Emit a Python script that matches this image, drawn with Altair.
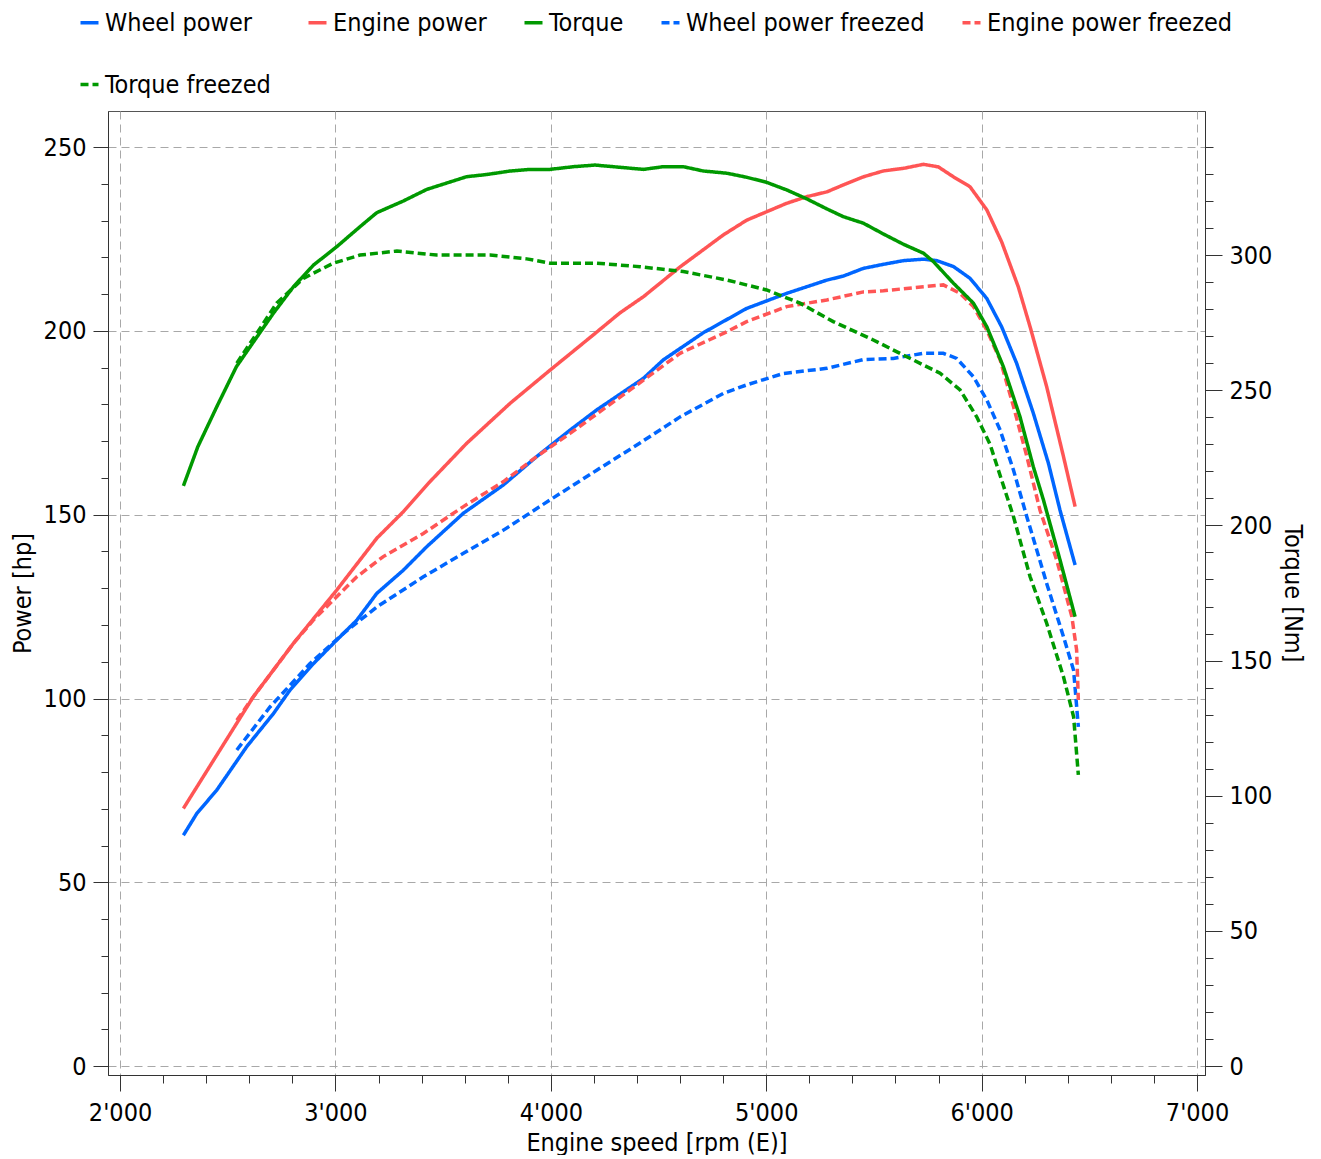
import altair as alt
import pandas as pd

FONT = "DejaVu Sans Condensed, DejaVu Sans, sans-serif"
FS = 25

SERIES = ["Wheel power", "Engine power", "Torque",
          "Wheel power freezed", "Engine power freezed", "Torque freezed"]
COLORS = ["#0066ff", "#ff5555", "#009900", "#0066ff", "#ff5555", "#009900"]
DASHES = [[1, 0], [1, 0], [1, 0], [8, 4], [8, 4], [8, 4]]

# Wheel power [hp]
wp_rpm = [2294, 2356, 2449, 2588, 2712, 2789, 2898, 3006, 3099, 3192, 3315, 3424, 3594,
          3780, 3934, 4089, 4213, 4430, 4522, 4708, 4909, 5095, 5281, 5358, 5451, 5544,
          5637, 5730, 5792, 5869, 5946, 6024, 6093, 6163, 6240, 6310, 6364, 6434]
wp_hp = [62.8, 68.7, 75.1, 86.9, 95.9, 102.3, 109.5, 115.9, 121.3, 128.6, 134.9, 141.3, 150.4,
         158.1, 165.8, 173.0, 178.5, 187.1, 192.1, 199.5, 206.1, 210.2, 213.8, 214.9, 217.0, 218.1,
         219.1, 219.5, 219.1, 217.5, 214.3, 208.8, 201.1, 191.1, 177.6, 164.0, 151.2, 136.3]

# Engine power [hp]
ep_rpm = [2294, 2449, 2619, 2805, 3006, 3192, 3315, 3439, 3609, 3811, 3996, 4197, 4321, 4430,
          4600, 4801, 4909, 5002, 5095, 5188, 5281, 5358, 5451, 5544, 5637, 5730, 5799, 5869,
          5946, 6024, 6093, 6170, 6225, 6302, 6380, 6434]
ep_hp = [70.1, 84.6, 100.5, 115.0, 129.5, 143.6, 150.8, 159.0, 169.4, 180.3, 189.3, 198.9, 204.9, 209.3,
         217.4, 226.1, 230.1, 232.4, 234.7, 236.5, 237.8, 239.7, 241.9, 243.5, 244.2, 245.3, 244.6, 241.9,
         239.2, 232.9, 224.2, 212.0, 201.1, 184.8, 165.8, 152.2]

# Torque [Nm]
tq_rpm = [2294, 2361, 2449, 2540, 2604, 2712, 2805, 2898, 3006, 3114, 3192, 3315, 3424, 3609,
          3702, 3811, 3903, 3996, 4105, 4205, 4430, 4522, 4615, 4708, 4816, 4909, 5002, 5095,
          5188, 5281, 5358, 5451, 5544, 5637, 5730, 5776, 5869, 5962, 6024, 6101, 6178, 6240,
          6287, 6364, 6434]
tq_nm = [214.6, 229.1, 243.9, 258.7, 266.1, 278.5, 288.3, 296.3, 303.1, 310.5, 315.7, 320.0, 324.3, 329.0,
         329.8, 331.1, 331.7, 331.7, 332.7, 333.3, 331.7, 332.7, 332.7, 331.1, 330.3, 328.8, 326.9, 324.1,
         320.8, 317.1, 314.2, 311.8, 307.8, 304.0, 300.7, 297.6, 289.6, 282.2, 273.5, 258.7, 240.2, 221.7,
         209.4, 187.2, 166.2]

# Wheel power freezed [hp]
wpf_rpm = [2542, 2696, 2882, 3037, 3192, 3408, 3594, 3780, 3996, 4213, 4414, 4600, 4801, 4909,
           5079, 5281, 5451, 5590, 5730, 5822, 5884, 5962, 6024, 6086, 6148, 6210, 6302, 6380,
           6427, 6449]
wpf_hp = [86.0, 97.7, 109.5, 117.7, 124.9, 133.1, 139.5, 145.8, 154.0, 162.1, 169.5, 176.6, 183.0, 185.3,
          188.4, 189.8, 192.2, 192.5, 193.9, 193.9, 192.5, 187.5, 181.2, 173.0, 162.1, 149.4, 131.3, 116.8,
          107.7, 92.3]

# Engine power freezed [hp]
epf_rpm = [2542, 2619, 2700, 2805, 2900, 2975, 3099, 3222, 3408, 3594, 3780, 3934, 4089, 4430,
           4600, 4801, 4909, 5095, 5281, 5451, 5544, 5730, 5822, 5900, 5962, 6024, 6086, 6148,
           6210, 6271, 6349, 6419, 6441, 6449]
epf_hp = [94.1, 100.5, 106.8, 115.0, 121.5, 125.9, 133.1, 138.6, 144.9, 152.2, 159.0, 165.8, 172.1, 186.6,
          193.9, 199.3, 202.5, 206.6, 208.4, 210.6, 210.9, 212.0, 212.5, 210.2, 206.6, 200.2, 192.1, 179.4,
          165.8, 151.2, 137.6, 122.2, 113.2, 99.6]

# Torque freezed [Nm]
tqf_rpm = [2542, 2635, 2727, 2851, 2990, 3114, 3285, 3470, 3718, 3888, 3996, 4213, 4414, 4615,
           4816, 5002, 5157, 5311, 5497, 5652, 5807, 5900, 5977, 6039, 6148, 6225, 6302, 6380,
           6427, 6449]
tqf_nm = [260.0, 271.1, 282.2, 291.4, 297.0, 300.0, 301.5, 300.0, 300.0, 298.6, 297.0, 297.0, 295.7, 293.9,
          290.8, 287.1, 282.2, 275.4, 268.6, 262.4, 256.3, 250.1, 240.2, 230.0, 203.2, 181.0, 163.8, 144.0,
          129.2, 107.7]


def frame(name, xs, ys):
    return pd.DataFrame({"rpm": xs, "val": ys, "series": name})


power_df = pd.concat([
    frame("Wheel power", wp_rpm, wp_hp),
    frame("Engine power", ep_rpm, ep_hp),
    frame("Wheel power freezed", wpf_rpm, wpf_hp),
    frame("Engine power freezed", epf_rpm, epf_hp),
], ignore_index=True)

torque_df = pd.concat([
    frame("Torque", tq_rpm, tq_nm),
    frame("Torque freezed", tqf_rpm, tqf_nm),
], ignore_index=True)

X_TICKS = list(range(2000, 7001, 200))
P_TICKS = list(range(0, 251, 10))
T_TICKS = list(range(0, 341, 10))

APOS = "replace(format(datum.value, ','), ',', \"'\")"

x_axis = alt.Axis(
    values=X_TICKS,
    labelExpr=f"datum.value % 1000 === 0 ? {APOS} : ''",
    tickSize={"condition": {"test": "datum.value % 1000 === 0", "value": 16}, "value": 8},
    gridOpacity={"condition": {"test": "datum.value % 1000 === 0", "value": 1}, "value": 0},
    grid=True, gridColor="#a8a8a8", gridDash=[8, 5], gridWidth=1,
    domainColor="#333", tickColor="#333", labelColor="#000",
    labelFont=FONT, labelFontSize=FS, labelPadding=9, labelFlush=False,
    title="Engine speed [rpm (E)]", titleFont=FONT, titleFontSize=FS,
    titleFontWeight="normal", titleColor="#000", titlePadding=5,
)

p_axis = alt.Axis(
    values=P_TICKS,
    labelExpr="datum.value % 50 === 0 ? datum.value : ''",
    tickSize={"condition": {"test": "datum.value % 50 === 0", "value": 15}, "value": 7},
    gridOpacity={"condition": {"test": "datum.value % 50 === 0", "value": 1}, "value": 0},
    grid=True, gridColor="#a8a8a8", gridDash=[8, 5], gridWidth=1,
    domainColor="#333", tickColor="#333", labelColor="#000",
    labelFont=FONT, labelFontSize=FS, labelPadding=7, labelFlush=False,
    title="Power [hp]", titleFont=FONT, titleFontSize=FS,
    titleFontWeight="normal", titleColor="#000", titlePadding=8,
)

t_axis = alt.Axis(
    orient="right",
    values=T_TICKS,
    labelExpr="datum.value % 50 === 0 ? datum.value : ''",
    tickSize={"condition": {"test": "datum.value % 50 === 0", "value": 17}, "value": 8},
    grid=False,
    domainColor="#333", tickColor="#333", labelColor="#000",
    labelFont=FONT, labelFontSize=FS, labelPadding=7, labelFlush=False,
    title="Torque [Nm]", titleFont=FONT, titleFontSize=FS,
    titleFontWeight="normal", titleColor="#000", titlePadding=8,
)

legend = alt.Legend(
    title=None, orient="none", legendX=-31, legendY=-101,
    direction="horizontal", columns=5, columnPadding=30, rowPadding=36,
    gridAlign="each", padding=0,
    symbolType="stroke", symbolSize=324, symbolStrokeWidth=3.5,
    labelFont=FONT, labelFontSize=FS, labelColor="#000", labelOffset=3,
    labelLimit=400,
)

x_enc = alt.X("rpm:Q", scale=alt.Scale(domain=[1944, 7037], nice=False, zero=False), axis=x_axis)
color_enc = alt.Color("series:N", scale=alt.Scale(domain=SERIES, range=COLORS), legend=legend, sort=SERIES)
dash_enc = alt.StrokeDash("series:N", scale=alt.Scale(domain=SERIES, range=DASHES), legend=legend, sort=SERIES)

power = alt.Chart(power_df).mark_line(strokeWidth=3.5).encode(
    x=x_enc,
    y=alt.Y("val:Q", scale=alt.Scale(domain=[-2.4, 259.8], nice=False, zero=False), axis=p_axis),
    color=color_enc,
    strokeDash=dash_enc,
)

torque = alt.Chart(torque_df).mark_line(strokeWidth=3.5).encode(
    x=x_enc,
    y=alt.Y("val:Q", scale=alt.Scale(domain=[-3.3, 353.3], nice=False, zero=False), axis=t_axis),
    color=color_enc,
    strokeDash=dash_enc,
)

chart = alt.layer(power, torque).resolve_scale(y="independent").properties(
    width=1097, height=964,
    autosize=alt.AutoSizeParams(type="none"),
    padding={"left": 100, "top": 103, "right": 108, "bottom": 80},
    background="white",
).configure_view(stroke="#555", strokeWidth=1)

chart.save("out.html", embed_options={"renderer": "svg", "actions": False})
